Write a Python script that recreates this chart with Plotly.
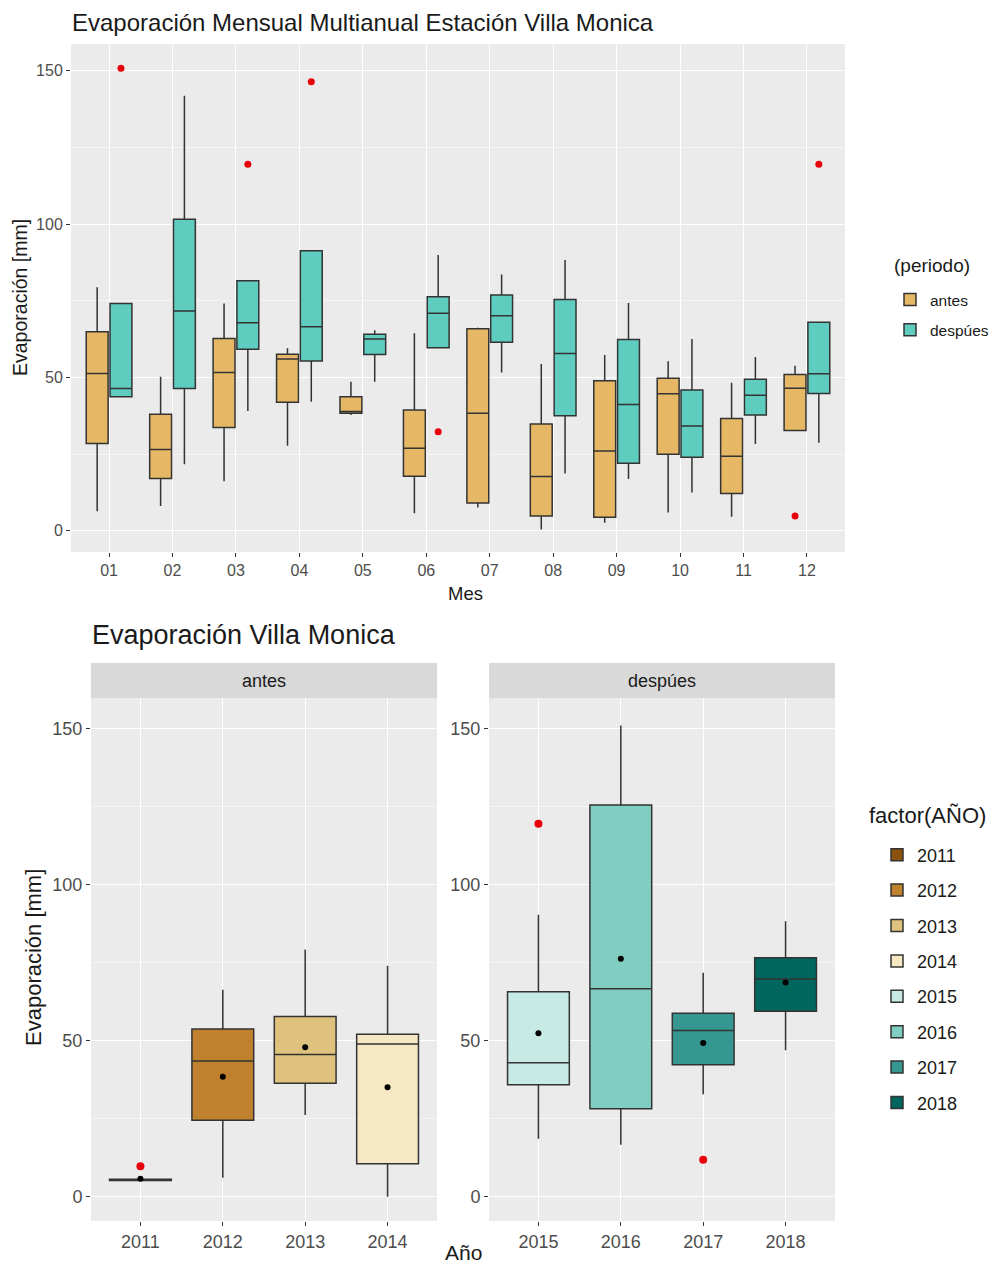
import plotly.graph_objects as go

# ---------------- DATA ----------------
months = ["01", "02", "03", "04", "05", "06", "07", "08", "09", "10", "11", "12"]

antes_low = [6.4, 8.1, 16.2, 27.7, 37.8, 5.7, 7.6, 0.4, 2.6, 6.0, 4.6, 32.7]
antes_q1 = [28.5, 17.1, 33.7, 41.9, 38.3, 17.8, 9.1, 4.8, 4.4, 25.0, 12.2, 32.7]
antes_med = [51.3, 26.5, 51.6, 56.0, 38.9, 26.9, 38.3, 17.7, 26.0, 44.7, 24.3, 46.5]
antes_q3 = [64.9, 38.0, 62.7, 57.6, 43.7, 39.4, 65.9, 34.8, 48.9, 49.7, 36.6, 51.0]
antes_up = [79.4, 50.2, 74.1, 59.5, 48.6, 64.4, 66.2, 54.4, 57.3, 55.3, 48.3, 53.8]
antes_out = [[None], [None], [None], [None], [None], [None],
             [None], [None], [None], [None], [None], [4.8]]

desp_low = [43.7, 21.7, 39.1, 42.1, 48.6, 59.7, 51.6, 18.7, 16.9, 12.5, 28.3, 28.7]
desp_q1 = [43.7, 46.4, 59.2, 55.4, 57.5, 59.7, 61.5, 37.5, 22.0, 24.0, 37.8, 44.8]
desp_med = [46.4, 71.7, 67.8, 66.5, 62.5, 70.9, 70.1, 57.8, 41.2, 34.2, 44.2, 51.2]
desp_q3 = [74.1, 101.6, 81.5, 91.3, 64.1, 76.3, 76.9, 75.4, 62.4, 45.9, 49.4, 68.0]
desp_up = [74.1, 141.8, 81.5, 91.3, 65.4, 89.9, 83.6, 88.3, 74.3, 62.5, 56.7, 68.0]
desp_out = [[150.8], [None], [119.5], [146.4], [None], [32.3],
            [None], [None], [None], [None], [None], [119.5]]

years = ["2011", "2012", "2013", "2014", "2015", "2016", "2017", "2018"]
year_period = ["antes", "antes", "antes", "antes", "despúes", "despúes", "despúes", "despúes"]
year_low = [5.2, 6.1, 26.2, 0.0, 18.6, 16.7, 32.9, 47.0]
year_q1 = [5.2, 24.5, 36.4, 10.6, 35.9, 28.2, 42.3, 59.5]
year_med = [5.4, 43.5, 45.6, 49.0, 43.0, 66.7, 53.3, 69.8]
year_q3 = [5.6, 53.8, 57.8, 52.1, 65.7, 125.6, 58.8, 76.6]
year_up = [5.6, 66.4, 79.3, 74.1, 90.4, 151.1, 71.8, 88.3]
year_mean = [5.8, 38.5, 47.9, 35.1, 52.4, 76.3, 49.3, 68.7]
year_out = [[9.8], [None], [None], [None], [119.6], [None], [11.9], [None]]
year_colors = ["#8C510A", "#BF812D", "#DFC27D", "#F6E8C3",
               "#C7EAE5", "#80CDC1", "#35978F", "#01665E"]

# ---------------- STYLE ----------------
OFF = 8                       # default page margin of the browser
W, H = 998 - 2 * OFF, 1275 - 2 * OFF
FONT = "Liberation Sans, Arial, sans-serif"
LINE = "#333333"
TICKC = "#4D4D4D"
PANEL = "#EBEBEB"


def px(xp):
    return (xp - OFF) / W


def py(yp):
    return 1 - (yp - OFF) / H


fig = go.Figure()

# ---- top chart ----
for name, low, q1, med, q3, up, out, col in [
    ("antes", antes_low, antes_q1, antes_med, antes_q3, antes_up, antes_out, "#E6B865"),
    ("despúes", desp_low, desp_q1, desp_med, desp_q3, desp_up, desp_out, "#5ECDC0"),
]:
    fig.add_trace(go.Box(
        name=name, x=months, y=out, q1=q1, median=med, q3=q3,
        lowerfence=low, upperfence=up, orientation="v",
        boxpoints="outliers", jitter=0, pointpos=0,
        marker=dict(color="#E8000B", size=7, line=dict(width=0)),
        fillcolor=col, line=dict(color=LINE, width=1.5), whiskerwidth=0,
        offsetgroup=name, legend="legend", legendgroup=name,
        xaxis="x", yaxis="y",
    ))

# ---- bottom chart ----
for i, yr in enumerate(years):
    ax = "2" if year_period[i] == "antes" else "3"
    fig.add_trace(go.Box(
        name=yr, x=[yr], y=[year_out[i]], q1=[year_q1[i]], median=[year_med[i]],
        q3=[year_q3[i]], lowerfence=[year_low[i]], upperfence=[year_up[i]],
        orientation="v", boxpoints="outliers", jitter=0, pointpos=0,
        marker=dict(color="#E8000B", size=8, line=dict(width=0)),
        fillcolor=year_colors[i], line=dict(color=LINE, width=1.5), whiskerwidth=0,
        width=0.75, offsetgroup="yrs" + ax, alignmentgroup="yrs" + ax,
        legend="legend2", legendgroup=yr,
        xaxis="x" + ax, yaxis="y" + ax,
    ))
    fig.add_trace(go.Scatter(
        x=[yr], y=[year_mean[i]], mode="markers",
        marker=dict(color="black", size=6), showlegend=False, hoverinfo="skip",
        xaxis="x" + ax, yaxis="y" + ax,
    ))

axis_common = dict(
    showgrid=True, gridcolor="white", gridwidth=1.2, zeroline=False,
    ticks="outside", ticklen=4, tickcolor=LINE, tickwidth=1,
    showline=False,
)
minor_grid = dict(tick0=0, dtick=25, showgrid=True, gridcolor="#F5F5F5",
                  gridwidth=0.8, ticklen=0)

fig.update_layout(
    width=W, height=H, margin=dict(l=0, r=0, t=0, b=0, autoexpand=False),
    paper_bgcolor="white", plot_bgcolor=PANEL,
    font=dict(family=FONT, color="#1A1A1A"),
    boxmode="group", boxgap=0.25, boxgroupgap=0.08,
    showlegend=True,
    xaxis=dict(domain=[px(71), px(845)], anchor="y", type="category",
               categoryorder="array", categoryarray=months, range=[-0.6, 11.6],
               tickfont=dict(size=16, color=TICKC), **axis_common),
    yaxis=dict(domain=[py(552), py(44)], anchor="x", range=[-6.9, 158.7],
               tickvals=[0, 50, 100, 150], tickfont=dict(size=16, color=TICKC),
               minor=minor_grid, **axis_common),
    xaxis2=dict(domain=[px(91), px(437)], anchor="y2", type="category",
                categoryorder="array", categoryarray=years[:4], range=[-0.6, 3.6],
                tickfont=dict(size=18, color=TICKC), **axis_common),
    yaxis2=dict(domain=[py(1221), py(698)], anchor="x2", range=[-7.76, 159.9],
                tickvals=[0, 50, 100, 150], tickfont=dict(size=18, color=TICKC),
                minor=minor_grid, **axis_common),
    xaxis3=dict(domain=[px(489), px(835)], anchor="y3", type="category",
                categoryorder="array", categoryarray=years[4:], range=[-0.6, 3.6],
                tickfont=dict(size=18, color=TICKC), **axis_common),
    yaxis3=dict(domain=[py(1221), py(698)], anchor="x3", range=[-7.76, 159.9],
                tickvals=[0, 50, 100, 150], tickfont=dict(size=18, color=TICKC),
                minor=minor_grid, **axis_common),
    legend=dict(x=px(890), y=py(283), xanchor="left", yanchor="top",
                font=dict(size=15.5, color="#1A1A1A"), bgcolor="rgba(0,0,0,0)",
                tracegroupgap=7, itemclick=False),
    legend2=dict(x=px(877), y=py(836.5), xanchor="left", yanchor="top",
                 font=dict(size=18, color="#1A1A1A"), bgcolor="rgba(0,0,0,0)",
                 tracegroupgap=9, itemclick=False),
)

# legend titles
fig.add_annotation(text="(periodo)", xref="paper", yref="paper", x=px(892), y=py(265),
                   showarrow=False, xanchor="left", yanchor="middle",
                   font=dict(size=19, color="#1A1A1A"))
fig.add_annotation(text="factor(AÑO)", xref="paper", yref="paper", x=px(867), y=py(815),
                   showarrow=False, xanchor="left", yanchor="middle",
                   font=dict(size=22, color="#1A1A1A"))

# facet strips
for x0, x1, label in [(91, 437, "antes"), (489, 835, "despúes")]:
    fig.add_shape(type="rect", xref="paper", yref="paper",
                  x0=px(x0), x1=px(x1), y0=py(698), y1=py(663),
                  fillcolor="#D9D9D9", line=dict(width=0), layer="below")
    fig.add_annotation(text=label, xref="paper", yref="paper",
                       x=px((x0 + x1) / 2), y=py(681), showarrow=False,
                       xanchor="center", yanchor="middle",
                       font=dict(size=18, color="#1A1A1A"))

# titles & axis titles
fig.add_annotation(text="Evaporación Mensual Multianual Estación Villa Monica",
                   xref="paper", yref="paper", x=px(70), y=py(22), showarrow=False,
                   xanchor="left", yanchor="middle", font=dict(size=24, color="#1A1A1A"))
fig.add_annotation(text="Evaporación Villa Monica",
                   xref="paper", yref="paper", x=px(90), y=py(635), showarrow=False,
                   xanchor="left", yanchor="middle", font=dict(size=27, color="#1A1A1A"))
fig.add_annotation(text="Mes", xref="paper", yref="paper", x=px(465), y=py(593),
                   showarrow=False, xanchor="center", yanchor="middle",
                   font=dict(size=18.5, color="#1A1A1A"))
fig.add_annotation(text="Evaporación [mm]", xref="paper", yref="paper", x=px(20), y=py(298),
                   showarrow=False, xanchor="center", yanchor="middle", textangle=-90,
                   font=dict(size=19.5, color="#1A1A1A"))
fig.add_annotation(text="Año", xref="paper", yref="paper", x=px(463), y=py(1266),
                   showarrow=False, xanchor="center", yanchor="bottom",
                   font=dict(size=21, color="#1A1A1A"))
fig.add_annotation(text="Evaporación [mm]", xref="paper", yref="paper", x=px(33), y=py(958),
                   showarrow=False, xanchor="center", yanchor="middle", textangle=-90,
                   font=dict(size=22, color="#1A1A1A"))

fig.write_html("out.html")
